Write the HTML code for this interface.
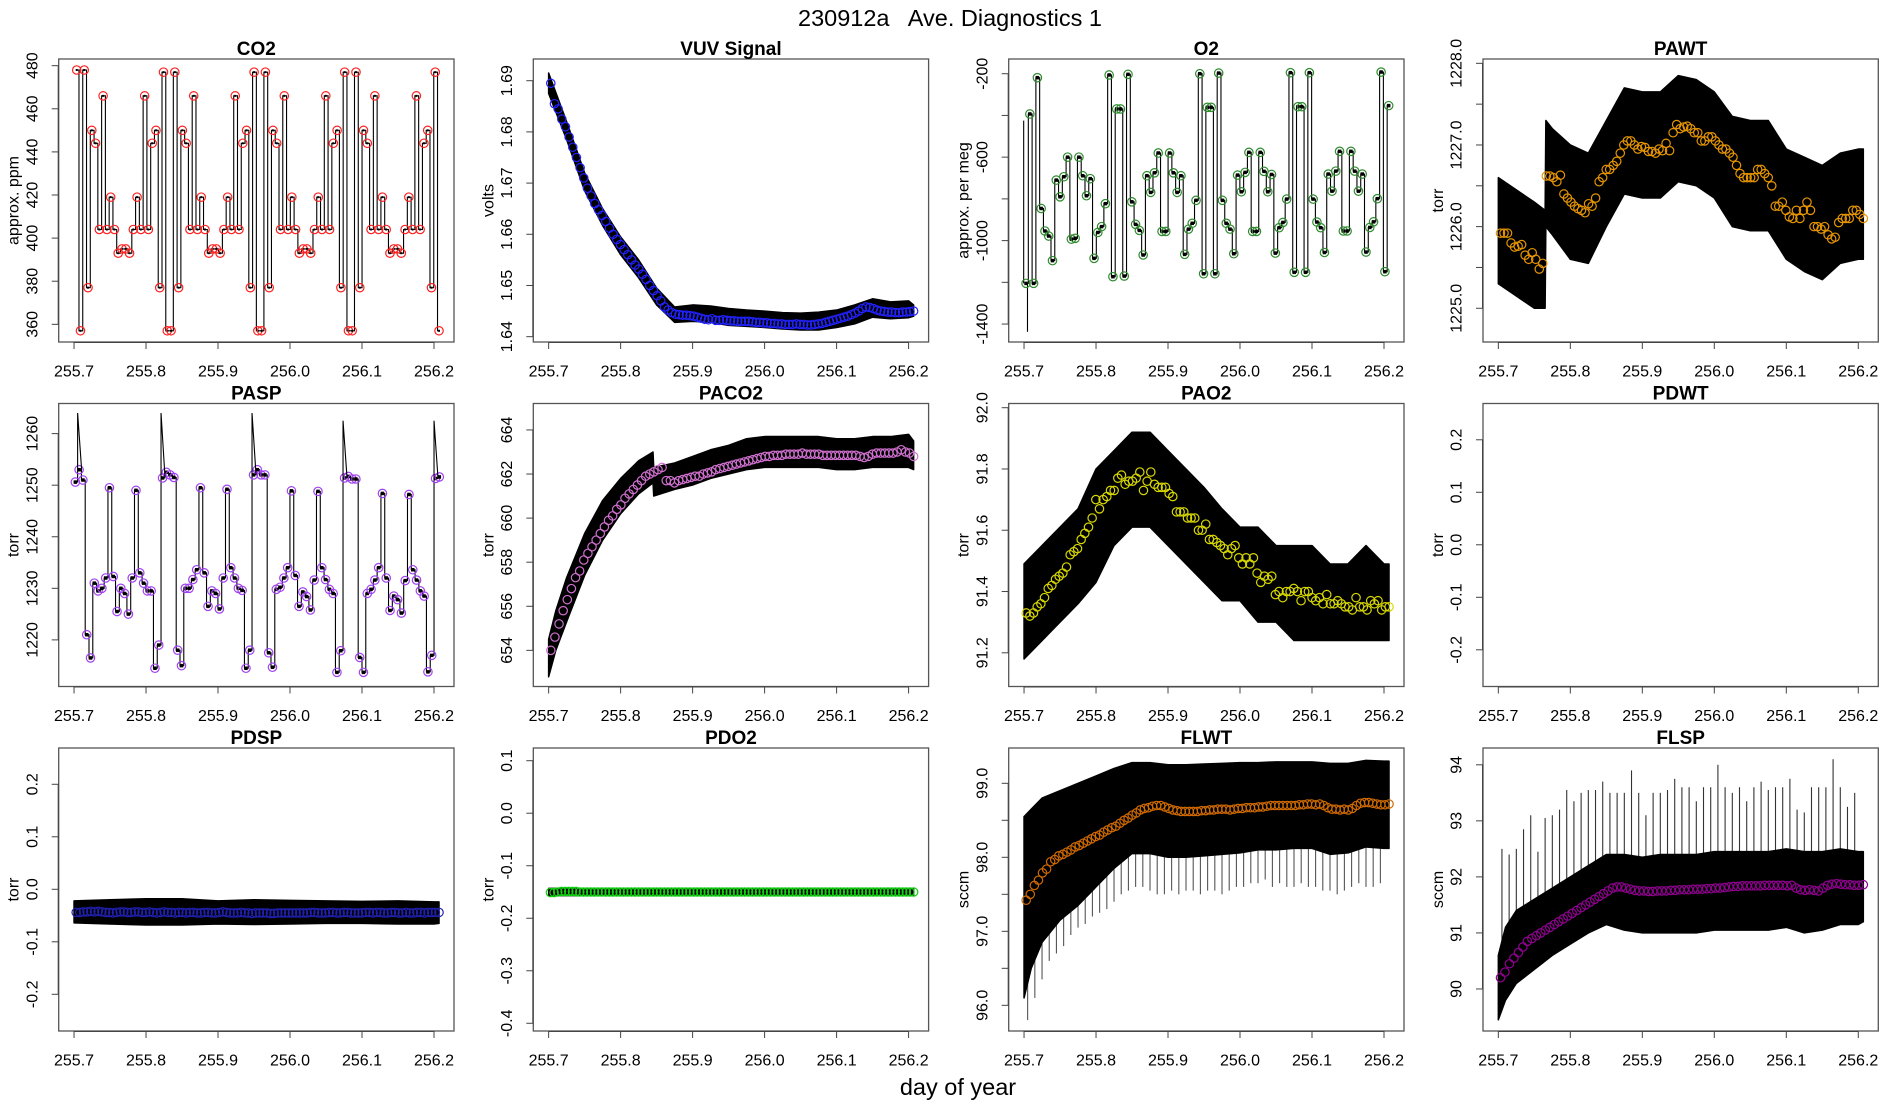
<!DOCTYPE html>
<html><head><meta charset="utf-8"><title>230912a Ave. Diagnostics 1</title>
<style>html,body{margin:0;padding:0;background:#fff}svg{display:block;font-family:"Liberation Sans",sans-serif}</style>
</head><body>
<svg id="chart" width="1900" height="1100" viewBox="0 0 1900 1100" xmlns="http://www.w3.org/2000/svg">
<rect x="0" y="0" width="1900" height="1100" fill="#fff"/>
<text x="950" y="26" font-size="23.5" text-anchor="middle" xml:space="preserve">230912a   Ave. Diagnostics 1</text>
<text x="958" y="1095" font-size="23.5" text-anchor="middle">day of year</text>
</svg>
<script>
// ---------- shared axis data ----------
const xTicks=[255.7,255.8,255.9,256.0,256.1,256.2];
const xTickLabels=["255.7","255.8","255.9","256.0","256.1","256.2"];

// ---------- CO2 ----------
const co2Range=[255.7037,256.207];
const co2Vals=[478,357,478,377,450,444,404,466,404,419,404,393,395,395,393,404,419,404,466,404,444,450,377,477,357,357,477,377,450,444,404,466,404,419,404,393,395,395,393,404,419,404,466,404,444,450,377,477,357,357,477,377,450,444,404,466,404,419,404,393,395,395,393,404,419,404,466,404,444,450,377,477,357,357,477,377,450,444,404,466,404,419,404,393,395,395,393,404,419,404,466,404,444,450,377,477,357];
const co2Ticks=[360,380,400,420,440,460,480];

// ---------- VUV ----------
const vuvMeanRange=[255.703,256.207];
const vuvMeans=[1.6895,1.6855,1.6845,1.6825,1.681,1.679,1.677,1.675,1.673,1.671,
1.669,1.6675,1.666,1.6648,1.6637,1.6625,1.6612,1.66,1.659,1.658,
1.657,1.656,1.655,1.654,1.6532,1.6522,1.6512,1.65,1.649,1.648,
1.647,1.6458,1.6452,1.6447,1.6444,
1.6443,1.6442,1.6442,1.6441,
1.644,1.6438,1.6436,1.6434,1.6433,1.6435,1.6432,1.6432,1.6433,1.6432,
1.6431,1.6431,1.643,1.643,1.643,1.643,1.6429,1.6428,1.6428,1.6427,
1.6427,1.6426,1.6426,1.6425,1.6425,1.6424,1.6424,1.6424,1.6425,1.6424,
1.6424,1.6423,1.6423,1.6424,1.6425,1.6426,1.6428,1.643,1.6432,1.6434,
1.6436,1.6438,1.644,1.6443,1.6446,1.645,1.6455,1.6458,1.6457,1.6455,
1.6452,1.645,1.6449,1.6448,1.6448,1.6447,1.6447,1.6448,1.6448,1.6449,1.645];
const vuvEnvX=[255.7,255.725,255.75,255.775,255.8,255.825,255.85,255.875,255.9,255.925,255.95,255.975,256.0,256.025,256.05,256.075,256.1,256.125,256.15,256.175,256.2,256.207];
const vuvEnvLo=[1.6875,1.6785,1.6685,1.6617,1.656,1.6515,1.6462,1.6428,1.643,1.6428,1.6422,1.642,1.6418,1.6415,1.6413,1.6413,1.6418,1.6425,1.6438,1.6435,1.6437,1.644];
const vuvEnvHi=[1.6915,1.682,1.672,1.665,1.6595,1.655,1.6495,1.6458,1.6462,1.646,1.6455,1.6452,1.645,1.6447,1.6446,1.6448,1.6452,1.6462,1.6474,1.6468,1.647,1.6462];
const vuvTicks=[1.64,1.65,1.66,1.67,1.68,1.69];

// ---------- O2 ----------
const o2Range=[255.7028,256.2065];
const o2Vals=[-1205,-393,-1205,-219,-846,-954,-978,-1096,-710,-790,-694,-600,-993,-989,-600,-689,-785,-703,-1085,-961,-933,-823,-206,-1173,-369,-369,-1170,-203,-814,-922,-951,-1069,-689,-769,-675,-580,-956,-956,-580,-675,-769,-689,-1066,-945,-917,-807,-200,-1159,-361,-361,-1159,-197,-807,-917,-945,-1063,-686,-766,-673,-577,-956,-956,-577,-668,-766,-683,-1060,-938,-913,-801,-195,-1152,-358,-358,-1152,-195,-801,-911,-938,-1057,-681,-763,-667,-572,-954,-954,-572,-667,-763,-681,-1055,-937,-910,-799,-192,-1149,-353];
const o2LeadX=[255.6995,255.7048];
const o2LeadTop=[-425,-1205];
const o2LeadBot=[-1205,-1437];
const o2Ticks=[-1400,-1200,-1000,-800,-600,-400,-200];
const o2TickLabels=["-1400","","-1000","","-600","","-200"];

// ---------- PAWT ----------
const pawtMeanRange=[255.703,256.207];
const pawtMeans=[1225.92,1225.92,1225.92,1225.8,1225.75,1225.76,1225.78,1225.65,1225.6,1225.68,1225.6,1225.48,1225.55,1226.62,1226.62,1226.6,1226.55,1226.63,1226.4,1226.35,1226.3,1226.25,1226.22,1226.2,1226.17,1226.28,1226.25,1226.35,1226.55,1226.6,1226.7,1226.7,1226.75,1226.8,1226.9,1227.0,1227.05,1227.05,1227.0,1226.95,1226.98,1226.97,1226.92,1226.92,1226.9,1226.95,1226.93,1227.02,1226.93,1227.15,1227.25,1227.2,1227.22,1227.23,1227.2,1227.15,1227.15,1227.05,1227.05,1227.1,1227.1,1227.05,1227.0,1226.95,1226.95,1226.9,1226.85,1226.75,1226.65,1226.6,1226.6,1226.6,1226.6,1226.7,1226.7,1226.65,1226.6,1226.5,1226.25,1226.25,1226.3,1226.2,1226.12,1226.1,1226.2,1226.1,1226.2,1226.3,1226.2,1226.0,1226.0,1225.97,1226.0,1225.9,1225.85,1225.87,1226.05,1226.1,1226.1,1226.1,1226.2,1226.2,1226.15,1226.1];
const pawtEnvX=[255.7,255.725,255.75,255.765,255.766,255.775,255.8,255.825,255.85,255.875,255.9,255.925,255.95,255.975,256.0,256.025,256.05,256.075,256.1,256.125,256.15,256.175,256.2,256.207];
const pawtEnvLo=[1225.3,1225.15,1225.0,1225.0,1226.0,1225.9,1225.6,1225.55,1226.0,1226.4,1226.35,1226.35,1226.55,1226.5,1226.35,1226.0,1225.95,1225.95,1225.6,1225.45,1225.35,1225.55,1225.6,1225.6];
const pawtEnvHi=[1226.6,1226.45,1226.3,1226.2,1227.3,1227.2,1227.0,1226.9,1227.3,1227.7,1227.65,1227.65,1227.85,1227.8,1227.65,1227.35,1227.3,1227.3,1226.95,1226.85,1226.75,1226.9,1226.95,1226.95];
const pawtTicks=[1225,1225.5,1226,1226.5,1227,1227.5,1228];
const pawtTickLabels=["1225.0","","1226.0","","1227.0","","1228.0"];

// ---------- PASP ----------
const paspRange=[255.7018,256.2074];
const paspVals=[1250.6,1253,1251,1221,1216.5,
1231,1229.5,1230,1232,1249.5,1232.3,1225.5,1230,1229,1225,1232,1249,1233,1231,1229.5,1229.5,
1214.5,1219,1251.4,1252.5,1252,1251.5,1218,1215,
1230,1230,1231.7,1233.6,1249.5,1233,1226.5,1229.5,1229,1226,1232,1249.2,1234,1232,1230,1229.6,
1214.5,1218,1252,1253,1252,1252,1217.5,1214.7,
1229.8,1230.2,1232,1234,1248.9,1232.5,1226.5,1229.3,1228.4,1225.8,1231.6,1248.8,1234,1231.7,1229.8,1229,
1213.7,1217.9,1251.4,1251.7,1251.2,1251.2,1216.6,1213.7,
1229,1229.8,1231.6,1234,1248.4,1232,1225.7,1228.5,1227.8,1225.2,1231.5,1248.2,1233.6,1231.6,1229.5,1228.5,
1213.8,1217,1251.3,1251.6];
const paspSpikeIdx=[1,23,47,71,95];
const paspSpikeVal=[1264,1264,1264,1262.5,1262.5];
const paspTicks=[1220,1230,1240,1250,1260];

// ---------- PACO2 ----------
const paco2MeanRange=[255.703,256.207];
const paco2Means=[654.0,654.6,655.2,655.8,656.3,656.8,657.3,657.6,658.1,658.4,658.7,659.0,659.3,659.6,659.9,660.1,660.4,660.6,660.9,661.1,661.3,661.5,661.7,661.9,662.0,662.1,662.2,662.3,661.7,661.7,661.6,661.7,661.75,661.8,661.85,661.9,661.9,662.0,662.05,662.1,662.2,662.25,662.3,662.35,662.4,662.45,662.5,662.55,662.6,662.65,662.7,662.75,662.8,662.8,662.85,662.85,662.85,662.9,662.9,662.9,662.9,662.95,662.9,662.9,662.9,662.9,662.85,662.85,662.85,662.85,662.85,662.85,662.85,662.85,662.85,662.8,662.75,662.8,662.9,662.95,662.95,662.95,662.95,662.95,663.0,663.1,663.0,662.95,662.8];
const paco2EnvX=[255.7,255.71,255.725,255.75,255.775,255.8,255.825,255.845,255.846,255.875,255.9,255.925,255.95,255.975,256.0,256.025,256.05,256.075,256.1,256.125,256.15,256.175,256.2,256.207];
const paco2EnvLo=[652.8,654.0,655.3,657.4,659.0,660.2,661.1,661.6,661.0,661.3,661.5,661.8,662.0,662.2,662.3,662.3,662.3,662.3,662.2,662.2,662.3,662.3,662.3,662.2];
const paco2EnvHi=[654.5,655.8,657.3,659.3,660.8,661.8,662.6,663.0,662.3,662.5,662.8,663.1,663.3,663.6,663.7,663.7,663.7,663.7,663.6,663.6,663.7,663.7,663.8,663.5];
const paco2Ticks=[654,656,658,660,662,664];

// ---------- PAO2 ----------
const pao2MeanRange=[255.703,256.207];
const pao2Means=[91.33,91.32,91.33,91.35,91.36,91.38,91.41,91.42,91.44,91.45,91.46,91.48,91.52,91.53,91.54,91.57,91.59,91.61,91.64,91.70,91.67,91.70,91.71,91.73,91.73,91.77,91.78,91.75,91.76,91.76,91.77,91.79,91.73,91.76,91.79,91.75,91.74,91.74,91.74,91.72,91.71,91.66,91.66,91.66,91.64,91.64,91.64,91.60,91.60,91.62,91.57,91.57,91.56,91.55,91.54,91.52,91.54,91.55,91.51,91.49,91.51,91.49,91.51,91.46,91.43,91.45,91.44,91.45,91.39,91.40,91.38,91.40,91.40,91.41,91.40,91.37,91.40,91.40,91.38,91.37,91.38,91.36,91.39,91.36,91.36,91.37,91.36,91.35,91.35,91.34,91.38,91.35,91.35,91.34,91.37,91.36,91.37,91.34,91.35,91.35];
const pao2EnvX=[255.7,255.725,255.75,255.775,255.8,255.825,255.85,255.875,255.9,255.925,255.95,255.975,256.0,256.025,256.05,256.075,256.1,256.125,256.15,256.175,256.2,256.207];
const pao2EnvLo=[91.18,91.24,91.30,91.36,91.43,91.55,91.61,91.61,91.55,91.49,91.43,91.37,91.37,91.30,91.30,91.24,91.24,91.24,91.24,91.24,91.24,91.24];
const pao2EnvHi=[91.49,91.55,91.61,91.67,91.80,91.86,91.92,91.92,91.86,91.80,91.74,91.67,91.61,91.61,91.55,91.55,91.55,91.49,91.49,91.55,91.49,91.49];
const pao2Ticks=[91.2,91.4,91.6,91.8,92.0];
const pao2TickLabels=["91.2","91.4","91.6","91.8","92.0"];

// ---------- PDWT / PDSP / PDO2 ----------
const pdTicks=[-0.2,-0.1,0.0,0.1,0.2];
const pdTickLabels=["-0.2","-0.1","0.0","0.1","0.2"];
const pdspMeanRange=[255.703,256.207];
const pdspMeans=[-0.044,-0.044,-0.043,-0.043,-0.042,-0.043,-0.042,-0.043,-0.044,-0.044,
-0.045,-0.044,-0.043,-0.043,-0.044,-0.044,-0.043,-0.043,-0.044,-0.044,
-0.043,-0.044,-0.045,-0.044,-0.043,-0.044,-0.044,-0.045,-0.044,-0.044,
-0.045,-0.044,-0.044,-0.045,-0.045,-0.044,-0.044,-0.045,-0.045,-0.044,
-0.043,-0.044,-0.045,-0.045,-0.045,-0.044,-0.045,-0.045,-0.046,-0.045,
-0.045,-0.045,-0.045,-0.046,-0.046,-0.045,-0.045,-0.045,-0.045,-0.045,
-0.045,-0.045,-0.045,-0.045,-0.044,-0.044,-0.045,-0.045,-0.045,-0.044,
-0.044,-0.045,-0.045,-0.044,-0.044,-0.045,-0.045,-0.045,-0.045,-0.044,
-0.044,-0.045,-0.044,-0.044,-0.045,-0.045,-0.044,-0.044,-0.045,-0.045,
-0.044,-0.045,-0.045,-0.044,-0.044,-0.045,-0.044,-0.044,-0.044,-0.044];
const pdspEnvX=[255.7,255.75,255.8,255.85,255.9,255.95,256.0,256.05,256.1,256.15,256.2,256.207];
const pdspEnvLo=[-0.064,-0.066,-0.068,-0.068,-0.066,-0.067,-0.066,-0.065,-0.065,-0.066,-0.066,-0.065];
const pdspEnvHi=[-0.022,-0.020,-0.018,-0.018,-0.022,-0.020,-0.021,-0.022,-0.023,-0.022,-0.024,-0.024];
const pdo2MeanRange=[255.7025,256.207];
const pdo2Means=[-0.151,-0.151,-0.150,-0.149,-0.149,-0.149,-0.149,-0.149,-0.150,-0.150,
-0.150,-0.150,-0.150,-0.150,-0.150,-0.150,-0.150,-0.150,-0.150,-0.150,
-0.150,-0.150,-0.150,-0.150,-0.150,-0.150,-0.150,-0.150,-0.150,-0.150,
-0.150,-0.150,-0.150,-0.150,-0.150,-0.150,-0.150,-0.150,-0.150,-0.150,
-0.150,-0.150,-0.150,-0.150,-0.150,-0.150,-0.150,-0.150,-0.150,-0.150,
-0.150,-0.150,-0.150,-0.150,-0.150,-0.150,-0.150,-0.150,-0.150,-0.150,
-0.150,-0.150,-0.150,-0.150,-0.150,-0.150,-0.150,-0.150,-0.150,-0.150,
-0.150,-0.150,-0.150,-0.150,-0.150,-0.150,-0.150,-0.150,-0.150,-0.150,
-0.150,-0.150,-0.150,-0.150,-0.150,-0.150,-0.150,-0.150,-0.150,-0.150,
-0.150,-0.150,-0.150,-0.150,-0.150,-0.150,-0.150,-0.150,-0.150,-0.150];
const pdo2EnvX=[255.7,256.207];
const pdo2EnvLo=[-0.157,-0.157];
const pdo2EnvHi=[-0.143,-0.143];
const pdo2Ticks=[-0.4,-0.3,-0.2,-0.1,0.0,0.1];
const pdo2TickLabels=["-0.4","-0.3","-0.2","-0.1","0.0","0.1"];

// ---------- FLWT ----------
const flwtMeanRange=[255.703,256.207];
const flwtMeans=[97.42,97.5,97.62,97.69,97.79,97.84,97.94,97.97,98.02,98.04,98.07,98.1,98.14,98.16,98.19,98.22,98.25,98.28,98.3,98.34,98.37,98.4,98.42,98.46,98.5,98.53,98.57,98.6,98.64,98.66,98.67,98.69,98.7,98.7,98.68,98.66,98.64,98.63,98.62,98.62,98.62,98.62,98.62,98.63,98.63,98.64,98.64,98.65,98.65,98.65,98.64,98.65,98.66,98.66,98.67,98.67,98.67,98.68,98.68,98.69,98.7,98.7,98.7,98.7,98.7,98.7,98.7,98.71,98.71,98.72,98.72,98.71,98.72,98.7,98.67,98.65,98.65,98.64,98.65,98.64,98.66,98.7,98.73,98.74,98.74,98.73,98.72,98.71,98.71,98.72];
const flwtEnvX=[255.7,255.71,255.725,255.75,255.775,255.8,255.825,255.85,255.875,255.9,255.925,255.95,255.975,256.0,256.025,256.05,256.075,256.1,256.125,256.15,256.175,256.2,256.207];
const flwtEnvLo=[96.1,96.5,96.85,97.15,97.35,97.6,97.85,98.05,98.05,98.0,98.0,98.02,98.04,98.06,98.1,98.1,98.12,98.12,98.04,98.06,98.14,98.12,98.12];
const flwtEnvHi=[98.55,98.65,98.8,98.9,99.0,99.1,99.2,99.28,99.28,99.25,99.25,99.26,99.27,99.28,99.28,99.29,99.29,99.29,99.27,99.27,99.31,99.3,99.3];
const flwtSpikeRange=[255.705,256.195];
const flwtSpikeTips=[95.8,96.1,96.35,96.6,96.7,96.8,96.95,97.05,97.1,97.2,97.25,97.3,97.4,97.5,97.55,97.6,97.6,97.55,97.5,97.5,97.55,97.5,97.55,97.55,97.5,97.55,97.55,97.5,97.55,97.6,97.6,97.65,97.65,97.7,97.6,97.65,97.6,97.6,97.65,97.6,97.6,97.55,97.55,97.5,97.55,97.6,97.65,97.6,97.6,97.65];
const flwtTicks=[96,96.5,97,97.5,98,98.5,99];
const flwtTickLabels=["96.0","","97.0","","98.0","","99.0"];

// ---------- FLSP ----------
const flspMeanRange=[255.703,256.207];
const flspMeans=[90.2,90.3,90.45,90.55,90.65,90.75,90.85,90.9,90.95,91.0,91.05,91.1,91.15,91.2,91.25,91.3,91.35,91.4,91.45,91.5,91.55,91.6,91.65,91.7,91.75,91.8,91.82,91.82,91.8,91.78,91.76,91.75,91.75,91.74,91.74,91.75,91.75,91.75,91.76,91.76,91.77,91.77,91.77,91.78,91.78,91.78,91.79,91.79,91.8,91.8,91.81,91.82,91.83,91.83,91.84,91.84,91.84,91.84,91.84,91.85,91.85,91.85,91.85,91.85,91.84,91.85,91.8,91.77,91.76,91.77,91.76,91.75,91.8,91.85,91.87,91.88,91.87,91.86,91.86,91.85,91.85,91.86];
const flspEnvX=[255.7,255.71,255.725,255.75,255.775,255.8,255.825,255.85,255.875,255.9,255.925,255.95,255.975,256.0,256.025,256.05,256.075,256.1,256.125,256.15,256.175,256.2,256.207];
const flspEnvLo=[89.45,89.8,90.1,90.35,90.6,90.8,91.0,91.15,91.05,91.0,91.0,91.0,91.0,91.05,91.05,91.05,91.05,91.1,91.0,91.05,91.15,91.15,91.2];
const flspEnvHi=[90.6,91.1,91.4,91.6,91.8,92.0,92.2,92.4,92.4,92.35,92.4,92.4,92.4,92.45,92.45,92.45,92.45,92.5,92.45,92.45,92.5,92.45,92.45];
const flspSpikeRange=[255.705,256.195];
const flspSpikeTips=[92.5,92.4,92.5,92.85,93.1,92.45,93.05,93.1,93.2,93.55,93.35,93.5,93.55,93.55,93.7,93.5,93.5,93.5,93.9,93.5,93.1,93.5,93.5,93.55,93.75,93.6,93.6,93.35,93.6,93.6,94.0,93.6,93.5,93.6,93.35,93.6,93.7,93.55,93.6,93.6,93.75,93.2,93.15,93.6,93.6,93.6,94.1,93.6,93.25,93.5];
const flspTicks=[90,91,92,93,94];

// ---------- drawing ----------
const NS="http://www.w3.org/2000/svg";
const svg=document.getElementById("chart");
const XLO=255.6787, XHI=256.2278, PW=395.3, PH=283;
const colX=[58.7,533.3,1008.7,1483], rowY=[59,403.5,748];

function el(tag,parent,attrs){const e=document.createElementNS(NS,tag);for(const k in attrs)e.setAttribute(k,attrs[k]);parent.appendChild(e);return e;}
function lin(n,r){const o=[];for(let i=0;i<n;i++)o.push(n===1?r[0]:r[0]+(r[1]-r[0])*i/(n-1));return o;}

function makePanel(name,col,row,title,ylab,ylo,yhi,yt,ytl){
  const L=colX[col],T=rowY[row],B=T+PH;
  const g=el("g",svg,{});
  
  
  const X=v=>L+(v-XLO)/(XHI-XLO)*PW;
  const Y=v=>B-(v-ylo)/(yhi-ylo)*PH;
  const plot=el("g",g,{});
  
  
  const box=el("rect",g,{x:L,y:T,width:PW,height:PH,fill:"none",stroke:"#555","stroke-width":1.3});
  
  
  const t=el("text",g,{x:L+PW/2,y:T-4,"font-size":19,"font-weight":"bold","text-anchor":"middle"});
  t.textContent=title;
  
  
  const xa=el("g",g,{});
  
  
  el("line",xa,{x1:X(xTicks[0]),x2:X(xTicks[xTicks.length-1]),y1:B+0.5,y2:B+0.5,stroke:"#444","stroke-width":1});
  xTicks.forEach((v,i)=>{
    el("line",xa,{x1:X(v),x2:X(v),y1:B,y2:B+7,stroke:"#444","stroke-width":1});
    const tl=el("text",xa,{x:X(v),y:B+34.5,"font-size":16,"text-anchor":"middle"});
    tl.textContent=xTickLabels[i];
    
    
  });
  const ya=el("g",g,{});
  
  
  el("line",ya,{x1:L-0.5,x2:L-0.5,y1:Y(yt[0]),y2:Y(yt[yt.length-1]),stroke:"#444","stroke-width":1});
  yt.forEach((v,i)=>{
    el("line",ya,{x1:L-7,x2:L,y1:Y(v),y2:Y(v),stroke:"#444","stroke-width":1});
    const s=ytl?ytl[i]:String(v);
    if(s!==""){
      const x=L-21.4,y=Y(v);
      const tl=el("text",ya,{x:x,y:y,"font-size":16,"text-anchor":"middle",transform:"rotate(-90 "+x+" "+y+")"});
      tl.textContent=s;
      
      
    }
  });
  const lx=L-40,ly=T+PH/2;
  const yl=el("text",g,{x:lx,y:ly,"font-size":16,"text-anchor":"middle",transform:"rotate(-90 "+lx+" "+ly+")"});
  yl.textContent=ylab;
  
  
  return {g:plot,X,Y};
}

function envelope(P,name,xs,lo,hi){
  let d="M"+P.X(xs[0])+","+P.Y(hi[0]);
  for(let i=1;i<xs.length;i++)d+=" L"+P.X(xs[i])+","+P.Y(hi[i]);
  for(let i=xs.length-1;i>=0;i--)d+=" L"+P.X(xs[i])+","+P.Y(lo[i]);
  const p=el("path",P.g,{d:d+"Z",fill:"#000",stroke:"#000","stroke-width":1.5,"stroke-linejoin":"round"});
  
  
}
function circles(P,name,vals,range,color){
  const xs=lin(vals.length,range);
  const g=el("g",P.g,{});
  
  
  vals.forEach((v,i)=>{
    const c=el("circle",g,{cx:P.X(xs[i]),cy:P.Y(v),r:4.2,fill:"none",stroke:color,"stroke-width":1.2});
    
    
  });
}
function spikes(P,name,tips,range,envX,envV,color){
  const xs=lin(tips.length,range);
  const g=el("g",P.g,{});
  
  
  xs.forEach((x,i)=>{
    let j=0;while(j<envX.length-2&&envX[j+1]<x)j++;
    const f=(x-envX[j])/(envX[j+1]-envX[j]);
    const base=envV[j]+(envV[j+1]-envV[j])*f;
    el("line",g,{x1:P.X(x),x2:P.X(x),y1:P.Y(base),y2:P.Y(tips[i]),stroke:color,"stroke-width":1.1});
  });
}
function steps(P,name,vals,range,color,dot){
  const xs=lin(vals.length,range);
  let d="M"+P.X(xs[0])+","+P.Y(vals[0]);
  for(let i=1;i<vals.length;i++)d+=" H"+(P.X(xs[i])-1.5)+" V"+P.Y(vals[i])+" H"+P.X(xs[i]);
  const p=el("path",P.g,{d:d,fill:"none",stroke:"#000","stroke-width":1.1});
  
  
  const g=el("g",P.g,{});
  
  
  vals.forEach((v,i)=>{
    el("rect",g,{x:P.X(xs[i])-dot/2,y:P.Y(v)-dot/2,width:dot,height:dot,fill:"#000"});
    const c=el("circle",g,{cx:P.X(xs[i]),cy:P.Y(v),r:4.2,fill:"none",stroke:color,"stroke-width":1.2});
    
    
  });
  return xs;
}

let P=makePanel("co2",0,0,"CO2","approx. ppm",351.8,483.1,co2Ticks);
steps(P,"co2",co2Vals,co2Range,"#ff2020",2);
P=makePanel("vuv",1,0,"VUV Signal","volts",1.63896,1.69424,vuvTicks,["1.64","1.65","1.66","1.67","1.68","1.69"]);
envelope(P,"vuv",vuvEnvX,vuvEnvLo,vuvEnvHi);
circles(P,"vuv",vuvMeans,vuvMeanRange,"#2222ff");
P=makePanel("o2",2,0,"O2","approx. per meg",-1486,-129.5,o2Ticks,o2TickLabels);
o2LeadX.forEach((x,i)=>{el("line",P.g,{x1:P.X(x),x2:P.X(x),y1:P.Y(o2LeadTop[i]),y2:P.Y(o2LeadBot[i]),stroke:"#000","stroke-width":1.1});});
steps(P,"o2",o2Vals,o2Range,"#2e8b2e",3.5);
P=makePanel("pawt",3,0,"PAWT","torr",1224.587,1228.053,pawtTicks,pawtTickLabels);
envelope(P,"pawt",pawtEnvX,pawtEnvLo,pawtEnvHi);
circles(P,"pawt",pawtMeans,pawtMeanRange,"#e69500");
P=makePanel("pasp",0,1,"PASP","torr",1210.96,1265.84,paspTicks);
const paspX=steps(P,"pasp",paspVals,paspRange,"#a040f0",3.5);
paspSpikeIdx.forEach((k,i)=>{
  const x=P.X(paspX[k])-1.5;
  const s=el("path",P.g,{d:"M"+x+","+P.Y(paspVals[k])+" L"+x+","+P.Y(paspSpikeVal[i])+" L"+(x+4)+","+P.Y(paspVals[k]),fill:"none",stroke:"#000","stroke-width":1.1});
  
  
});
P=makePanel("paco2",1,1,"PACO2","torr",652.36,665.2,paco2Ticks);
envelope(P,"paco2",paco2EnvX,paco2EnvLo,paco2EnvHi);
circles(P,"paco2",paco2Means,paco2MeanRange,"#d070d0");
P=makePanel("pao2",2,1,"PAO2","torr",91.090,92.0137,pao2Ticks,pao2TickLabels);
envelope(P,"pao2",pao2EnvX,pao2EnvLo,pao2EnvHi);
circles(P,"pao2",pao2Means,pao2MeanRange,"#d8d800");
P=makePanel("pdwt",3,1,"PDWT","torr",-0.2699,0.2691,pdTicks,pdTickLabels);
P=makePanel("pdsp",0,2,"PDSP","torr",-0.2699,0.2691,pdTicks,pdTickLabels);
envelope(P,"pdsp",pdspEnvX,pdspEnvLo,pdspEnvHi);
circles(P,"pdsp",pdspMeans,pdspMeanRange,"#2020b0");
P=makePanel("pdo2",1,2,"PDO2","torr",-0.4147,0.1242,pdo2Ticks,pdo2TickLabels);
envelope(P,"pdo2",pdo2EnvX,pdo2EnvLo,pdo2EnvHi);
circles(P,"pdo2",pdo2Means,pdo2MeanRange,"#10d010");
P=makePanel("flwt",2,2,"FLWT","sccm",95.653,99.477,flwtTicks,flwtTickLabels);
spikes(P,"flwt",flwtSpikeTips,flwtSpikeRange,flwtEnvX,flwtEnvLo,"#555");
envelope(P,"flwt",flwtEnvX,flwtEnvLo,flwtEnvHi);
circles(P,"flwt",flwtMeans,flwtMeanRange,"#d06a00");
P=makePanel("flsp",3,2,"FLSP","sccm",89.25,94.30,flspTicks);
spikes(P,"flsp",flspSpikeTips,flspSpikeRange,flspEnvX,flspEnvHi,"#333");
envelope(P,"flsp",flspEnvX,flspEnvLo,flspEnvHi);
circles(P,"flsp",flspMeans,flspMeanRange,"#900090");
</script>
</body></html>
